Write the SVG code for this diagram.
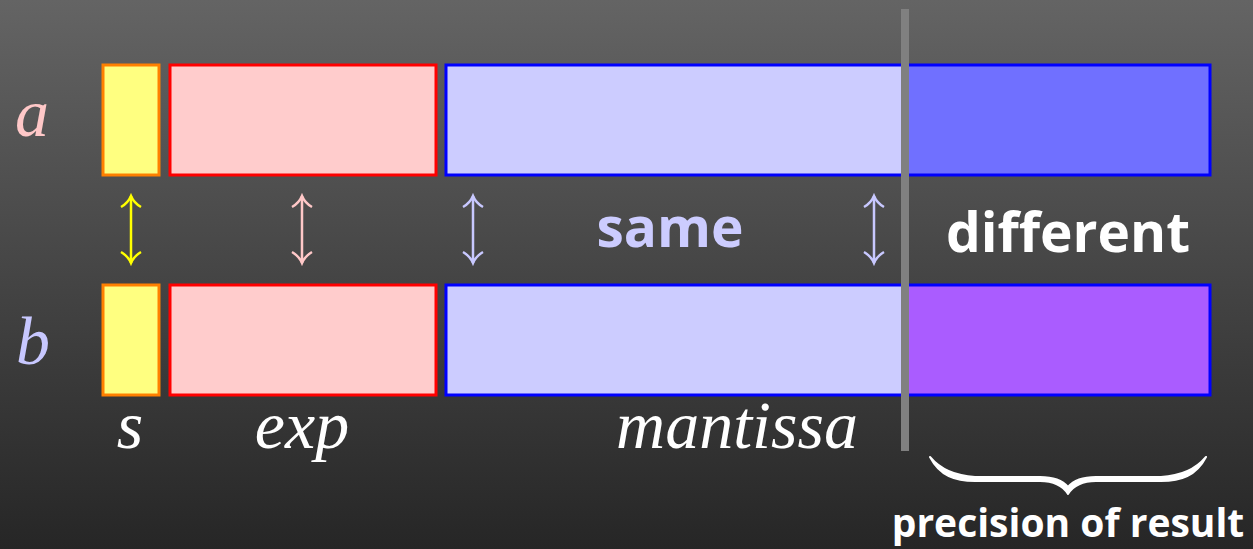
<svg xmlns="http://www.w3.org/2000/svg" width="1253" height="549" viewBox="0 0 1253 549">
<defs>
<linearGradient id="bg" x1="0" y1="0" x2="0" y2="1">
<stop offset="0" stop-color="#646464"/>
<stop offset="1" stop-color="#262626"/>
</linearGradient>
</defs>
<style>
.lbl{font-family:"Liberation Serif","DejaVu Serif",serif;font-style:italic;font-size:68px;text-anchor:middle}
.big{font-family:"Open Sans","DejaVu Sans",sans-serif;font-weight:bold;text-anchor:middle}
.s{fill:#ffff80;stroke:#ff8000;stroke-width:3}
.e{fill:#ffcccc;stroke:#ff0000;stroke-width:3}
.m{stroke:#0000ff;stroke-width:3}
.arr{stroke-width:2.5;fill:none}
</style>
<rect width="1253" height="549" fill="url(#bg)"/>
<g id="row-a">
<text class="lbl" x="32" y="136" font-size="72" fill="#ffc8c8">a</text>
<rect class="s" x="103" y="65" width="56" height="110"/>
<rect class="e" x="170" y="65" width="266" height="110"/>
<rect x="446" y="65" width="460" height="110" fill="#ccccff"/>
<rect x="906" y="65" width="304" height="110" fill="#7070ff"/>
<rect class="m" x="446" y="65" width="764" height="110" fill="none"/>
</g>
<g id="row-b">
<text class="lbl" x="33" y="364" font-size="72" fill="#c8c8ff">b</text>
<rect class="s" x="103" y="285" width="56" height="110"/>
<rect class="e" x="170" y="285" width="266" height="110"/>
<rect x="446" y="285" width="460" height="110" fill="#ccccff"/>
<rect x="906" y="285" width="304" height="110" fill="#aa5cff"/>
<rect class="m" x="446" y="285" width="764" height="110" fill="none"/>
</g>
<g id="connectors">
<line class="arr" x1="131" y1="196" x2="131" y2="263" stroke="#ffff00"/>
<path d="M121,207 Q128,203 131,196 Q134,203 141,207 M121,252 Q128,256 131,263 Q134,256 141,252" class="arr" stroke="#ffff00"/>
<line class="arr" x1="302" y1="196" x2="302" y2="263" stroke="#ffc8c8"/>
<path d="M292,207 Q299,203 302,196 Q305,203 312,207 M292,252 Q299,256 302,263 Q305,256 312,252" class="arr" stroke="#ffc8c8"/>
<line class="arr" x1="473" y1="196" x2="473" y2="263" stroke="#c8c8ff"/>
<path d="M463,207 Q470,203 473,196 Q476,203 483,207 M463,252 Q470,256 473,263 Q476,256 483,252" class="arr" stroke="#c8c8ff"/>
<line class="arr" x1="874" y1="196" x2="874" y2="263" stroke="#c8c8ff"/>
<path d="M864,207 Q871,203 874,196 Q877,203 884,207 M864,252 Q871,256 874,263 Q877,256 884,252" class="arr" stroke="#c8c8ff"/>
</g>
<rect id="divider" x="901" y="9" width="8" height="442" fill="#808080"/>
<text class="big" x="670" y="247" font-size="55" fill="#ccccff">same</text>
<text class="big" x="1068" y="252" font-size="55" fill="#ffffff">different</text>
<text class="lbl" x="130" y="448" fill="#ffffff">s</text>
<text class="lbl" x="302" y="448" fill="#ffffff">exp</text>
<text class="lbl" x="737" y="448" fill="#ffffff">mantissa</text>
<path id="brace" d="M930,457 C940,476 955,481 975,481 L1040,481 C1055,481 1063,486 1068,494 C1073,486 1081,481 1096,481 L1161,481 C1181,481 1196,476 1206,457 C1196,469 1181,476 1161,477 L1096,477 C1081,477 1073,481 1068,487 C1063,481 1055,477 1040,477 L975,477 C955,476 940,469 930,457 Z" fill="#ffffff" stroke="#ffffff" stroke-width="2" stroke-linejoin="round"/>
<text class="big" x="1068" y="537" font-size="39" fill="#ffffff">precision of result</text>
</svg>
